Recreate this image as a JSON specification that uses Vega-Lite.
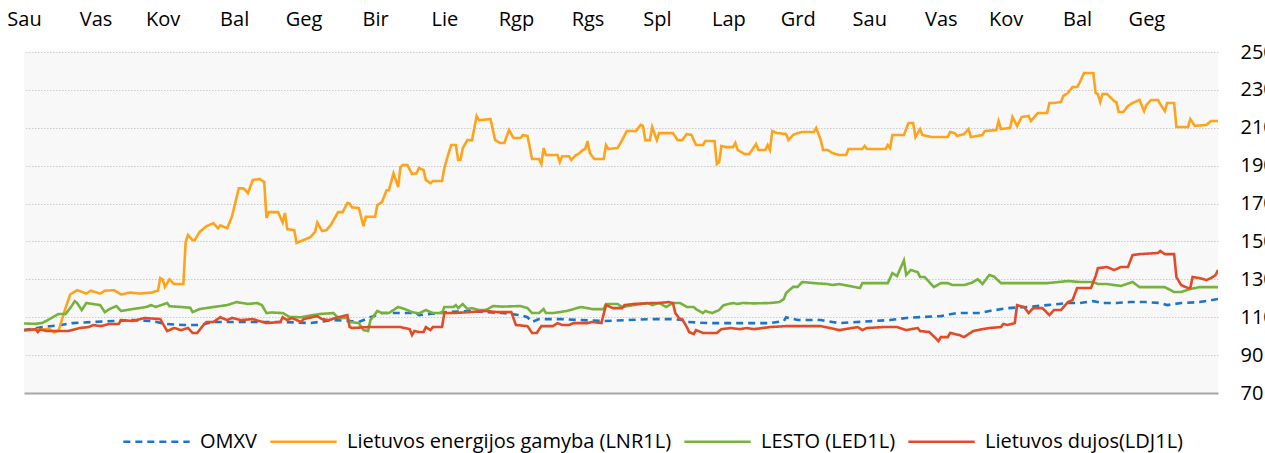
{"$schema":"https://vega.github.io/schema/vega-lite/v6.json","width":1194,"height":341,"autosize":{"type":"none"},"padding":{"left":24,"top":52,"right":47,"bottom":60},"background":"white","config":{"view":{"fill":"#f8f8f8","stroke":null},"font":"Open Sans"},
"data":{"values":[
{"d":0,"s":"OMXV","v":103.2},{"d":8,"s":"OMXV","v":104.8},{"d":16,"s":"OMXV","v":105.9},{"d":21,"s":"OMXV","v":106.9},{"d":30,"s":"OMXV","v":107.5},{"d":39,"s":"OMXV","v":108},{"d":47,"s":"OMXV","v":108.5},{"d":55,"s":"OMXV","v":108},{"d":62,"s":"OMXV","v":106.4},{"d":69,"s":"OMXV","v":105.9},{"d":76,"s":"OMXV","v":105.9},{"d":82,"s":"OMXV","v":107.5},{"d":90,"s":"OMXV","v":107.5},{"d":102,"s":"OMXV","v":107.5},{"d":112,"s":"OMXV","v":107.5},{"d":124,"s":"OMXV","v":106.9},{"d":134,"s":"OMXV","v":108.5},{"d":141,"s":"OMXV","v":108},{"d":145,"s":"OMXV","v":107.5},{"d":150,"s":"OMXV","v":110},{"d":155,"s":"OMXV","v":112.2},{"d":163,"s":"OMXV","v":112.2},{"d":170,"s":"OMXV","v":112.2},{"d":171,"s":"OMXV","v":111.1},{"d":183,"s":"OMXV","v":112.7},{"d":193,"s":"OMXV","v":113.3},{"d":200,"s":"OMXV","v":112.7},{"d":207,"s":"OMXV","v":112.2},{"d":215,"s":"OMXV","v":111.1},{"d":218,"s":"OMXV","v":110},{"d":220,"s":"OMXV","v":107.5},{"d":223,"s":"OMXV","v":109},{"d":232,"s":"OMXV","v":109},{"d":241,"s":"OMXV","v":108.5},{"d":251,"s":"OMXV","v":108},{"d":261,"s":"OMXV","v":108.5},{"d":272,"s":"OMXV","v":109},{"d":281,"s":"OMXV","v":109},{"d":285,"s":"OMXV","v":108.5},{"d":287,"s":"OMXV","v":107.5},{"d":296,"s":"OMXV","v":106.9},{"d":309,"s":"OMXV","v":106.9},{"d":323,"s":"OMXV","v":106.9},{"d":329,"s":"OMXV","v":108},{"d":330,"s":"OMXV","v":110},{"d":335,"s":"OMXV","v":108.5},{"d":345,"s":"OMXV","v":108.5},{"d":350,"s":"OMXV","v":107.5},{"d":353,"s":"OMXV","v":106.9},{"d":368,"s":"OMXV","v":108},{"d":375,"s":"OMXV","v":108.5},{"d":382,"s":"OMXV","v":109.6},{"d":389,"s":"OMXV","v":110.1},{"d":397,"s":"OMXV","v":110.6},{"d":404,"s":"OMXV","v":112.2},{"d":414,"s":"OMXV","v":112.2},{"d":418,"s":"OMXV","v":113.3},{"d":426,"s":"OMXV","v":114.8},{"d":434,"s":"OMXV","v":115.4},{"d":443,"s":"OMXV","v":116.4},{"d":452,"s":"OMXV","v":117.5},{"d":457,"s":"OMXV","v":117.5},{"d":463,"s":"OMXV","v":118.5},{"d":467,"s":"OMXV","v":117.5},{"d":473,"s":"OMXV","v":117.5},{"d":479,"s":"OMXV","v":118},{"d":486,"s":"OMXV","v":118},{"d":492,"s":"OMXV","v":117.5},{"d":495,"s":"OMXV","v":116.4},{"d":501,"s":"OMXV","v":117.5},{"d":509,"s":"OMXV","v":118},{"d":517,"s":"OMXV","v":119.6},
{"d":0,"s":"LNR1L","v":103},{"d":7,"s":"LNR1L","v":103.5},{"d":11,"s":"LNR1L","v":103.8},{"d":13,"s":"LNR1L","v":102},{"d":15,"s":"LNR1L","v":103},{"d":18,"s":"LNR1L","v":115},{"d":20,"s":"LNR1L","v":122},{"d":23,"s":"LNR1L","v":124.3},{"d":27,"s":"LNR1L","v":122.5},{"d":29,"s":"LNR1L","v":124},{"d":33,"s":"LNR1L","v":122.5},{"d":35,"s":"LNR1L","v":124},{"d":39,"s":"LNR1L","v":124.3},{"d":42,"s":"LNR1L","v":122},{"d":46,"s":"LNR1L","v":123},{"d":50,"s":"LNR1L","v":122.5},{"d":55,"s":"LNR1L","v":123},{"d":58,"s":"LNR1L","v":124},{"d":59,"s":"LNR1L","v":130.7},{"d":60,"s":"LNR1L","v":130},{"d":61,"s":"LNR1L","v":126},{"d":63,"s":"LNR1L","v":130},{"d":65,"s":"LNR1L","v":127.5},{"d":69,"s":"LNR1L","v":127.5},{"d":70,"s":"LNR1L","v":149.7},{"d":71,"s":"LNR1L","v":153.4},{"d":73,"s":"LNR1L","v":150.7},{"d":74,"s":"LNR1L","v":150.7},{"d":76,"s":"LNR1L","v":155},{"d":79,"s":"LNR1L","v":158},{"d":82,"s":"LNR1L","v":159.7},{"d":84,"s":"LNR1L","v":157},{"d":85,"s":"LNR1L","v":158.5},{"d":88,"s":"LNR1L","v":157},{"d":90,"s":"LNR1L","v":163},{"d":93,"s":"LNR1L","v":178},{"d":95,"s":"LNR1L","v":178},{"d":97,"s":"LNR1L","v":175.5},{"d":99,"s":"LNR1L","v":182.4},{"d":102,"s":"LNR1L","v":183},{"d":104,"s":"LNR1L","v":181.4},{"d":105,"s":"LNR1L","v":162.4},{"d":106,"s":"LNR1L","v":165.5},{"d":110,"s":"LNR1L","v":165.5},{"d":112,"s":"LNR1L","v":160},{"d":113,"s":"LNR1L","v":165},{"d":114,"s":"LNR1L","v":156.5},{"d":117,"s":"LNR1L","v":156},{"d":118,"s":"LNR1L","v":149.2},{"d":121,"s":"LNR1L","v":150.7},{"d":124,"s":"LNR1L","v":152.3},{"d":126,"s":"LNR1L","v":155},{"d":127,"s":"LNR1L","v":160},{"d":129,"s":"LNR1L","v":155.5},{"d":131,"s":"LNR1L","v":156},{"d":133,"s":"LNR1L","v":159},{"d":136,"s":"LNR1L","v":165.5},{"d":138,"s":"LNR1L","v":165.5},{"d":140,"s":"LNR1L","v":170.3},{"d":141,"s":"LNR1L","v":170},{"d":142,"s":"LNR1L","v":168},{"d":145,"s":"LNR1L","v":167.6},{"d":147,"s":"LNR1L","v":158},{"d":148,"s":"LNR1L","v":163},{"d":152,"s":"LNR1L","v":163},{"d":153,"s":"LNR1L","v":169.2},{"d":155,"s":"LNR1L","v":170.8},{"d":157,"s":"LNR1L","v":177},{"d":158,"s":"LNR1L","v":177},{"d":160,"s":"LNR1L","v":186},{"d":162,"s":"LNR1L","v":178.7},{"d":163,"s":"LNR1L","v":189.3},{"d":164,"s":"LNR1L","v":190.3},{"d":166,"s":"LNR1L","v":190.3},{"d":168,"s":"LNR1L","v":185.6},{"d":170,"s":"LNR1L","v":186},{"d":171,"s":"LNR1L","v":188.8},{"d":173,"s":"LNR1L","v":187.7},{"d":174,"s":"LNR1L","v":182.4},{"d":176,"s":"LNR1L","v":180.8},{"d":177,"s":"LNR1L","v":181.9},{"d":181,"s":"LNR1L","v":181.9},{"d":182,"s":"LNR1L","v":188.8},{"d":184,"s":"LNR1L","v":197.2},{"d":185,"s":"LNR1L","v":200.9},{"d":187,"s":"LNR1L","v":200.9},{"d":188,"s":"LNR1L","v":193},{"d":189,"s":"LNR1L","v":193},{"d":190,"s":"LNR1L","v":199.3},{"d":192,"s":"LNR1L","v":203.5},{"d":194,"s":"LNR1L","v":203.5},{"d":196,"s":"LNR1L","v":216.2},{"d":197,"s":"LNR1L","v":214},{"d":202,"s":"LNR1L","v":214.6},{"d":204,"s":"LNR1L","v":203.5},{"d":206,"s":"LNR1L","v":202},{"d":208,"s":"LNR1L","v":202},{"d":210,"s":"LNR1L","v":208.8},{"d":212,"s":"LNR1L","v":204.6},{"d":215,"s":"LNR1L","v":204.6},{"d":216,"s":"LNR1L","v":206.2},{"d":218,"s":"LNR1L","v":205.7},{"d":220,"s":"LNR1L","v":193.5},{"d":223,"s":"LNR1L","v":193.5},{"d":224,"s":"LNR1L","v":190.9},{"d":225,"s":"LNR1L","v":199.3},{"d":226,"s":"LNR1L","v":195.6},{"d":231,"s":"LNR1L","v":195.6},{"d":232,"s":"LNR1L","v":191.9},{"d":233,"s":"LNR1L","v":195},{"d":236,"s":"LNR1L","v":195},{"d":237,"s":"LNR1L","v":193},{"d":239,"s":"LNR1L","v":195.6},{"d":240,"s":"LNR1L","v":196.1},{"d":242,"s":"LNR1L","v":198.3},{"d":243,"s":"LNR1L","v":198.8},{"d":244,"s":"LNR1L","v":203},{"d":245,"s":"LNR1L","v":196.7},{"d":246,"s":"LNR1L","v":195},{"d":247,"s":"LNR1L","v":193.5},{"d":251,"s":"LNR1L","v":193.5},{"d":252,"s":"LNR1L","v":200.9},{"d":253,"s":"LNR1L","v":198.8},{"d":257,"s":"LNR1L","v":199.3},{"d":259,"s":"LNR1L","v":203.5},{"d":261,"s":"LNR1L","v":208.3},{"d":265,"s":"LNR1L","v":208.3},{"d":267,"s":"LNR1L","v":211.5},{"d":268,"s":"LNR1L","v":211},{"d":269,"s":"LNR1L","v":203.5},{"d":271,"s":"LNR1L","v":203.5},{"d":272,"s":"LNR1L","v":210.4},{"d":274,"s":"LNR1L","v":203.5},{"d":275,"s":"LNR1L","v":207.2},{"d":281,"s":"LNR1L","v":207.2},{"d":283,"s":"LNR1L","v":203.5},{"d":285,"s":"LNR1L","v":203.5},{"d":287,"s":"LNR1L","v":206.7},{"d":289,"s":"LNR1L","v":206.2},{"d":291,"s":"LNR1L","v":200.9},{"d":294,"s":"LNR1L","v":200.9},{"d":295,"s":"LNR1L","v":203},{"d":299,"s":"LNR1L","v":203},{"d":300,"s":"LNR1L","v":190.9},{"d":301,"s":"LNR1L","v":191.9},{"d":302,"s":"LNR1L","v":200.4},{"d":304,"s":"LNR1L","v":199.8},{"d":307,"s":"LNR1L","v":199.8},{"d":308,"s":"LNR1L","v":202},{"d":309,"s":"LNR1L","v":198.3},{"d":312,"s":"LNR1L","v":196.1},{"d":314,"s":"LNR1L","v":196.1},{"d":317,"s":"LNR1L","v":201.4},{"d":318,"s":"LNR1L","v":198.3},{"d":321,"s":"LNR1L","v":198.3},{"d":322,"s":"LNR1L","v":200.9},{"d":323,"s":"LNR1L","v":198.3},{"d":324,"s":"LNR1L","v":208.3},{"d":326,"s":"LNR1L","v":207.2},{"d":330,"s":"LNR1L","v":206.7},{"d":331,"s":"LNR1L","v":203.5},{"d":333,"s":"LNR1L","v":206.2},{"d":335,"s":"LNR1L","v":207.2},{"d":337,"s":"LNR1L","v":207.8},{"d":342,"s":"LNR1L","v":207.8},{"d":343,"s":"LNR1L","v":209.9},{"d":345,"s":"LNR1L","v":203.5},{"d":346,"s":"LNR1L","v":198.3},{"d":348,"s":"LNR1L","v":198.3},{"d":350,"s":"LNR1L","v":196.7},{"d":353,"s":"LNR1L","v":195.6},{"d":356,"s":"LNR1L","v":195.6},{"d":357,"s":"LNR1L","v":198.8},{"d":363,"s":"LNR1L","v":198.8},{"d":364,"s":"LNR1L","v":200.4},{"d":365,"s":"LNR1L","v":198.8},{"d":373,"s":"LNR1L","v":198.8},{"d":374,"s":"LNR1L","v":200.9},{"d":375,"s":"LNR1L","v":199.3},{"d":376,"s":"LNR1L","v":206.2},{"d":381,"s":"LNR1L","v":206.2},{"d":383,"s":"LNR1L","v":212.5},{"d":385,"s":"LNR1L","v":212.5},{"d":386,"s":"LNR1L","v":205.1},{"d":388,"s":"LNR1L","v":209.3},{"d":389,"s":"LNR1L","v":206.2},{"d":393,"s":"LNR1L","v":205.1},{"d":400,"s":"LNR1L","v":205.1},{"d":401,"s":"LNR1L","v":207.8},{"d":403,"s":"LNR1L","v":207.2},{"d":404,"s":"LNR1L","v":205.7},{"d":407,"s":"LNR1L","v":206.7},{"d":409,"s":"LNR1L","v":209.3},{"d":410,"s":"LNR1L","v":205.1},{"d":415,"s":"LNR1L","v":206.2},{"d":416,"s":"LNR1L","v":208.3},{"d":421,"s":"LNR1L","v":208.8},{"d":422,"s":"LNR1L","v":213.6},{"d":423,"s":"LNR1L","v":209.3},{"d":427,"s":"LNR1L","v":209.9},{"d":428,"s":"LNR1L","v":215.7},{"d":430,"s":"LNR1L","v":211},{"d":432,"s":"LNR1L","v":215.7},{"d":435,"s":"LNR1L","v":216.2},{"d":436,"s":"LNR1L","v":213.6},{"d":439,"s":"LNR1L","v":217.8},{"d":443,"s":"LNR1L","v":217.8},{"d":444,"s":"LNR1L","v":223.1},{"d":446,"s":"LNR1L","v":223.1},{"d":449,"s":"LNR1L","v":223.6},{"d":450,"s":"LNR1L","v":226.8},{"d":452,"s":"LNR1L","v":228.4},{"d":454,"s":"LNR1L","v":231.5},{"d":456,"s":"LNR1L","v":231.5},{"d":457,"s":"LNR1L","v":233.6},{"d":459,"s":"LNR1L","v":238.9},{"d":463,"s":"LNR1L","v":238.9},{"d":464,"s":"LNR1L","v":228.4},{"d":465,"s":"LNR1L","v":227.8},{"d":466,"s":"LNR1L","v":223.6},{"d":467,"s":"LNR1L","v":227.8},{"d":469,"s":"LNR1L","v":227.8},{"d":472,"s":"LNR1L","v":224.1},{"d":473,"s":"LNR1L","v":223.6},{"d":474,"s":"LNR1L","v":218.3},{"d":476,"s":"LNR1L","v":218.3},{"d":478,"s":"LNR1L","v":221.5},{"d":480,"s":"LNR1L","v":223.1},{"d":483,"s":"LNR1L","v":224.7},{"d":485,"s":"LNR1L","v":218.8},{"d":486,"s":"LNR1L","v":222},{"d":488,"s":"LNR1L","v":224.7},{"d":491,"s":"LNR1L","v":224.7},{"d":492,"s":"LNR1L","v":222.5},{"d":494,"s":"LNR1L","v":218.8},{"d":495,"s":"LNR1L","v":223.1},{"d":498,"s":"LNR1L","v":223.1},{"d":499,"s":"LNR1L","v":210.4},{"d":504,"s":"LNR1L","v":210.4},{"d":505,"s":"LNR1L","v":214.6},{"d":507,"s":"LNR1L","v":211},{"d":512,"s":"LNR1L","v":211.5},{"d":514,"s":"LNR1L","v":213.6},{"d":517,"s":"LNR1L","v":213.6},
{"d":0,"s":"LED1L","v":106.7},{"d":5,"s":"LED1L","v":106.5},{"d":8,"s":"LED1L","v":107},{"d":11,"s":"LED1L","v":109},{"d":15,"s":"LED1L","v":111.7},{"d":18,"s":"LED1L","v":111.7},{"d":20,"s":"LED1L","v":114.8},{"d":22,"s":"LED1L","v":118.5},{"d":23,"s":"LED1L","v":117.5},{"d":25,"s":"LED1L","v":113.8},{"d":27,"s":"LED1L","v":117.5},{"d":33,"s":"LED1L","v":116.4},{"d":35,"s":"LED1L","v":112.7},{"d":37,"s":"LED1L","v":114.3},{"d":40,"s":"LED1L","v":115.9},{"d":42,"s":"LED1L","v":113.3},{"d":47,"s":"LED1L","v":114.3},{"d":53,"s":"LED1L","v":115.4},{"d":55,"s":"LED1L","v":116.4},{"d":57,"s":"LED1L","v":115.4},{"d":62,"s":"LED1L","v":117.5},{"d":63,"s":"LED1L","v":115.8},{"d":68,"s":"LED1L","v":115.4},{"d":72,"s":"LED1L","v":115},{"d":73,"s":"LED1L","v":112.7},{"d":76,"s":"LED1L","v":114.3},{"d":82,"s":"LED1L","v":115.4},{"d":88,"s":"LED1L","v":116.4},{"d":92,"s":"LED1L","v":118},{"d":97,"s":"LED1L","v":117},{"d":101,"s":"LED1L","v":117.5},{"d":103,"s":"LED1L","v":116.4},{"d":105,"s":"LED1L","v":112.2},{"d":107,"s":"LED1L","v":112.5},{"d":112,"s":"LED1L","v":112.2},{"d":115,"s":"LED1L","v":110.1},{"d":120,"s":"LED1L","v":110},{"d":125,"s":"LED1L","v":111.1},{"d":128,"s":"LED1L","v":111.7},{"d":134,"s":"LED1L","v":112.2},{"d":136,"s":"LED1L","v":109.6},{"d":140,"s":"LED1L","v":109.6},{"d":141,"s":"LED1L","v":107.5},{"d":145,"s":"LED1L","v":106.9},{"d":147,"s":"LED1L","v":103.2},{"d":149,"s":"LED1L","v":102.7},{"d":150,"s":"LED1L","v":108.5},{"d":151,"s":"LED1L","v":110},{"d":153,"s":"LED1L","v":113.3},{"d":155,"s":"LED1L","v":112.2},{"d":158,"s":"LED1L","v":112.2},{"d":160,"s":"LED1L","v":113.8},{"d":162,"s":"LED1L","v":115.4},{"d":165,"s":"LED1L","v":114.3},{"d":168,"s":"LED1L","v":112.7},{"d":171,"s":"LED1L","v":112},{"d":174,"s":"LED1L","v":113.8},{"d":177,"s":"LED1L","v":112.2},{"d":181,"s":"LED1L","v":112.2},{"d":182,"s":"LED1L","v":115.4},{"d":186,"s":"LED1L","v":115.4},{"d":187,"s":"LED1L","v":116.4},{"d":188,"s":"LED1L","v":114.8},{"d":190,"s":"LED1L","v":117},{"d":192,"s":"LED1L","v":114.3},{"d":194,"s":"LED1L","v":114.8},{"d":197,"s":"LED1L","v":113.8},{"d":200,"s":"LED1L","v":113.8},{"d":203,"s":"LED1L","v":115.9},{"d":207,"s":"LED1L","v":115.6},{"d":215,"s":"LED1L","v":115.9},{"d":218,"s":"LED1L","v":114.8},{"d":220,"s":"LED1L","v":112.2},{"d":223,"s":"LED1L","v":112.2},{"d":225,"s":"LED1L","v":114.3},{"d":226,"s":"LED1L","v":112.2},{"d":229,"s":"LED1L","v":112.2},{"d":232,"s":"LED1L","v":112.7},{"d":235,"s":"LED1L","v":113.3},{"d":238,"s":"LED1L","v":114.3},{"d":241,"s":"LED1L","v":115.4},{"d":244,"s":"LED1L","v":114.8},{"d":246,"s":"LED1L","v":114.3},{"d":251,"s":"LED1L","v":114.3},{"d":252,"s":"LED1L","v":117},{"d":257,"s":"LED1L","v":117},{"d":259,"s":"LED1L","v":115.4},{"d":264,"s":"LED1L","v":116.4},{"d":270,"s":"LED1L","v":117.5},{"d":272,"s":"LED1L","v":116.4},{"d":275,"s":"LED1L","v":117.5},{"d":278,"s":"LED1L","v":115.4},{"d":281,"s":"LED1L","v":117.5},{"d":284,"s":"LED1L","v":117.5},{"d":287,"s":"LED1L","v":115.4},{"d":290,"s":"LED1L","v":115.4},{"d":291,"s":"LED1L","v":114.3},{"d":294,"s":"LED1L","v":112.2},{"d":295,"s":"LED1L","v":113.3},{"d":298,"s":"LED1L","v":112.2},{"d":301,"s":"LED1L","v":113.8},{"d":303,"s":"LED1L","v":116.4},{"d":307,"s":"LED1L","v":117.5},{"d":309,"s":"LED1L","v":117},{"d":311,"s":"LED1L","v":117.5},{"d":316,"s":"LED1L","v":117.3},{"d":323,"s":"LED1L","v":117.5},{"d":327,"s":"LED1L","v":118},{"d":329,"s":"LED1L","v":119.6},{"d":330,"s":"LED1L","v":122.8},{"d":333,"s":"LED1L","v":126},{"d":335,"s":"LED1L","v":126},{"d":337,"s":"LED1L","v":128.6},{"d":342,"s":"LED1L","v":128},{"d":348,"s":"LED1L","v":127.5},{"d":350,"s":"LED1L","v":127},{"d":353,"s":"LED1L","v":127.5},{"d":362,"s":"LED1L","v":125.4},{"d":363,"s":"LED1L","v":128},{"d":374,"s":"LED1L","v":128},{"d":376,"s":"LED1L","v":133.3},{"d":378,"s":"LED1L","v":131.7},{"d":381,"s":"LED1L","v":140},{"d":382,"s":"LED1L","v":132.3},{"d":384,"s":"LED1L","v":134.9},{"d":387,"s":"LED1L","v":133.8},{"d":388,"s":"LED1L","v":131.2},{"d":390,"s":"LED1L","v":131.2},{"d":394,"s":"LED1L","v":125.9},{"d":397,"s":"LED1L","v":128},{"d":400,"s":"LED1L","v":128},{"d":402,"s":"LED1L","v":127},{"d":407,"s":"LED1L","v":127},{"d":410,"s":"LED1L","v":128},{"d":413,"s":"LED1L","v":130.1},{"d":415,"s":"LED1L","v":127.5},{"d":418,"s":"LED1L","v":132.3},{"d":420,"s":"LED1L","v":131.5},{"d":423,"s":"LED1L","v":128},{"d":434,"s":"LED1L","v":128},{"d":443,"s":"LED1L","v":128},{"d":452,"s":"LED1L","v":129.1},{"d":457,"s":"LED1L","v":128.6},{"d":463,"s":"LED1L","v":128.6},{"d":465,"s":"LED1L","v":127.5},{"d":469,"s":"LED1L","v":127.5},{"d":475,"s":"LED1L","v":126.5},{"d":480,"s":"LED1L","v":128.6},{"d":483,"s":"LED1L","v":125.9},{"d":494,"s":"LED1L","v":125.9},{"d":498,"s":"LED1L","v":123.3},{"d":501,"s":"LED1L","v":123.3},{"d":505,"s":"LED1L","v":124.9},{"d":509,"s":"LED1L","v":125.9},{"d":517,"s":"LED1L","v":125.9},
{"d":0,"s":"LDJ1L","v":103.2},{"d":5,"s":"LDJ1L","v":103.7},{"d":6,"s":"LDJ1L","v":102.2},{"d":7,"s":"LDJ1L","v":103.5},{"d":10,"s":"LDJ1L","v":102.7},{"d":19,"s":"LDJ1L","v":102.7},{"d":24,"s":"LDJ1L","v":104.3},{"d":28,"s":"LDJ1L","v":104.8},{"d":30,"s":"LDJ1L","v":105.9},{"d":33,"s":"LDJ1L","v":105.3},{"d":37,"s":"LDJ1L","v":106.4},{"d":41,"s":"LDJ1L","v":106.4},{"d":42,"s":"LDJ1L","v":108.5},{"d":47,"s":"LDJ1L","v":108},{"d":52,"s":"LDJ1L","v":109.6},{"d":59,"s":"LDJ1L","v":109},{"d":60,"s":"LDJ1L","v":106.9},{"d":62,"s":"LDJ1L","v":102.7},{"d":65,"s":"LDJ1L","v":104.3},{"d":68,"s":"LDJ1L","v":103.2},{"d":71,"s":"LDJ1L","v":104.3},{"d":73,"s":"LDJ1L","v":101.7},{"d":75,"s":"LDJ1L","v":101.7},{"d":77,"s":"LDJ1L","v":104.8},{"d":79,"s":"LDJ1L","v":107.5},{"d":82,"s":"LDJ1L","v":107.5},{"d":85,"s":"LDJ1L","v":110},{"d":88,"s":"LDJ1L","v":108.5},{"d":90,"s":"LDJ1L","v":109.6},{"d":94,"s":"LDJ1L","v":108.5},{"d":99,"s":"LDJ1L","v":109},{"d":105,"s":"LDJ1L","v":106.9},{"d":111,"s":"LDJ1L","v":107.5},{"d":112,"s":"LDJ1L","v":110},{"d":114,"s":"LDJ1L","v":108.5},{"d":116,"s":"LDJ1L","v":109.6},{"d":120,"s":"LDJ1L","v":107.5},{"d":121,"s":"LDJ1L","v":109},{"d":127,"s":"LDJ1L","v":110.6},{"d":129,"s":"LDJ1L","v":109},{"d":132,"s":"LDJ1L","v":108.5},{"d":136,"s":"LDJ1L","v":110},{"d":140,"s":"LDJ1L","v":111.1},{"d":141,"s":"LDJ1L","v":104.8},{"d":142,"s":"LDJ1L","v":104.3},{"d":149,"s":"LDJ1L","v":104.8},{"d":163,"s":"LDJ1L","v":104.8},{"d":167,"s":"LDJ1L","v":103.7},{"d":168,"s":"LDJ1L","v":100.6},{"d":169,"s":"LDJ1L","v":102.7},{"d":171,"s":"LDJ1L","v":102.2},{"d":173,"s":"LDJ1L","v":102.2},{"d":174,"s":"LDJ1L","v":104.8},{"d":176,"s":"LDJ1L","v":103.2},{"d":177,"s":"LDJ1L","v":104.8},{"d":181,"s":"LDJ1L","v":104.8},{"d":182,"s":"LDJ1L","v":112.2},{"d":186,"s":"LDJ1L","v":112.2},{"d":193,"s":"LDJ1L","v":112.7},{"d":200,"s":"LDJ1L","v":113.3},{"d":205,"s":"LDJ1L","v":112.7},{"d":211,"s":"LDJ1L","v":112.7},{"d":213,"s":"LDJ1L","v":105.9},{"d":218,"s":"LDJ1L","v":105.3},{"d":220,"s":"LDJ1L","v":101.7},{"d":222,"s":"LDJ1L","v":101.7},{"d":224,"s":"LDJ1L","v":105.3},{"d":229,"s":"LDJ1L","v":105.3},{"d":231,"s":"LDJ1L","v":106.9},{"d":233,"s":"LDJ1L","v":105.9},{"d":236,"s":"LDJ1L","v":105.9},{"d":238,"s":"LDJ1L","v":106.9},{"d":244,"s":"LDJ1L","v":106.9},{"d":246,"s":"LDJ1L","v":107.5},{"d":250,"s":"LDJ1L","v":106.9},{"d":252,"s":"LDJ1L","v":116.4},{"d":255,"s":"LDJ1L","v":114.8},{"d":259,"s":"LDJ1L","v":114.8},{"d":260,"s":"LDJ1L","v":116.4},{"d":264,"s":"LDJ1L","v":117},{"d":272,"s":"LDJ1L","v":117.5},{"d":275,"s":"LDJ1L","v":117.5},{"d":279,"s":"LDJ1L","v":118},{"d":281,"s":"LDJ1L","v":117.5},{"d":282,"s":"LDJ1L","v":112.2},{"d":284,"s":"LDJ1L","v":109},{"d":285,"s":"LDJ1L","v":109},{"d":287,"s":"LDJ1L","v":104.8},{"d":288,"s":"LDJ1L","v":102.2},{"d":290,"s":"LDJ1L","v":101.1},{"d":291,"s":"LDJ1L","v":103.2},{"d":294,"s":"LDJ1L","v":101.7},{"d":300,"s":"LDJ1L","v":101.7},{"d":302,"s":"LDJ1L","v":103.7},{"d":306,"s":"LDJ1L","v":104.3},{"d":310,"s":"LDJ1L","v":103.7},{"d":313,"s":"LDJ1L","v":104.3},{"d":316,"s":"LDJ1L","v":103.7},{"d":323,"s":"LDJ1L","v":104.8},{"d":330,"s":"LDJ1L","v":105.3},{"d":345,"s":"LDJ1L","v":105.3},{"d":349,"s":"LDJ1L","v":104.3},{"d":353,"s":"LDJ1L","v":103.2},{"d":361,"s":"LDJ1L","v":104.8},{"d":363,"s":"LDJ1L","v":103.2},{"d":365,"s":"LDJ1L","v":104.3},{"d":372,"s":"LDJ1L","v":104.8},{"d":378,"s":"LDJ1L","v":104.8},{"d":382,"s":"LDJ1L","v":103.2},{"d":387,"s":"LDJ1L","v":104.3},{"d":388,"s":"LDJ1L","v":102.7},{"d":392,"s":"LDJ1L","v":102.2},{"d":396,"s":"LDJ1L","v":97.4},{"d":397,"s":"LDJ1L","v":99.5},{"d":400,"s":"LDJ1L","v":99.5},{"d":401,"s":"LDJ1L","v":101.7},{"d":405,"s":"LDJ1L","v":100.6},{"d":407,"s":"LDJ1L","v":99.5},{"d":411,"s":"LDJ1L","v":102.7},{"d":415,"s":"LDJ1L","v":103.7},{"d":418,"s":"LDJ1L","v":104.3},{"d":423,"s":"LDJ1L","v":104.8},{"d":424,"s":"LDJ1L","v":106.4},{"d":426,"s":"LDJ1L","v":105.9},{"d":429,"s":"LDJ1L","v":106.9},{"d":430,"s":"LDJ1L","v":116.4},{"d":433,"s":"LDJ1L","v":115.4},{"d":435,"s":"LDJ1L","v":112.2},{"d":437,"s":"LDJ1L","v":114.8},{"d":441,"s":"LDJ1L","v":114.8},{"d":444,"s":"LDJ1L","v":111.1},{"d":446,"s":"LDJ1L","v":113.8},{"d":449,"s":"LDJ1L","v":113.8},{"d":452,"s":"LDJ1L","v":118},{"d":454,"s":"LDJ1L","v":119},{"d":456,"s":"LDJ1L","v":125.4},{"d":462,"s":"LDJ1L","v":125.4},{"d":464,"s":"LDJ1L","v":131.7},{"d":465,"s":"LDJ1L","v":135.9},{"d":469,"s":"LDJ1L","v":136.5},{"d":472,"s":"LDJ1L","v":134.9},{"d":475,"s":"LDJ1L","v":136.5},{"d":478,"s":"LDJ1L","v":136.5},{"d":480,"s":"LDJ1L","v":142.8},{"d":483,"s":"LDJ1L","v":143.3},{"d":491,"s":"LDJ1L","v":143.9},{"d":492,"s":"LDJ1L","v":145},{"d":494,"s":"LDJ1L","v":143.3},{"d":498,"s":"LDJ1L","v":143.3},{"d":499,"s":"LDJ1L","v":131.2},{"d":501,"s":"LDJ1L","v":127},{"d":504,"s":"LDJ1L","v":125.4},{"d":505,"s":"LDJ1L","v":125.4},{"d":506,"s":"LDJ1L","v":131.2},{"d":509,"s":"LDJ1L","v":130.7},{"d":512,"s":"LDJ1L","v":129.6},{"d":514,"s":"LDJ1L","v":130.7},{"d":516,"s":"LDJ1L","v":132.3},{"d":517,"s":"LDJ1L","v":134.9}
]},
"mark":{"type":"line","strokeWidth":2.6,"clip":true},
"encoding":{
"x":{"field":"d","type":"quantitative","scale":{"domain":[0,517],"nice":false,"zero":false},"axis":{"orient":"top","values":[0,31,60,91,121,152,182,213,244,274,305,335,366,397,425,456,486],"labelExpr":"['Sau','Vas','Kov','Bal','Geg','Bir','Lie','Rgp','Rgs','Spl','Lap','Grd','Sau','Vas','Kov','Bal','Geg'][indexof([0,31,60,91,121,152,182,213,244,274,305,335,366,397,425,456,486], datum.value)]","grid":false,"domain":false,"ticks":false,"tickSize":0,"labelPadding":23,"labelFontSize":20,"labelFont":"Open Sans","labelColor":"#000","labelOverlap":false,"labelFlush":false,"labelBound":false,"title":null}},
"y":{"field":"v","type":"quantitative","scale":{"domain":[70,250],"nice":false,"zero":false},"axis":{"orient":"right","values":[70,90,110,130,150,170,190,210,230,250],"grid":true,"gridColor":{"condition":{"test":"datum.value === 70","value":"#a6a6a6"},"value":"#cccccc"},"gridDash":{"condition":{"test":"datum.value === 70","value":[]},"value":[1.5,1.5]},"gridWidth":{"condition":{"test":"datum.value === 70","value":2},"value":1},"domain":false,"ticks":false,"tickSize":0,"labelPadding":22,"labelFontSize":20,"labelFont":"Open Sans","labelColor":"#000","labelOverlap":false,"labelFlush":false,"labelBaseline":"middle","title":null}},
"color":{"field":"s","type":"nominal","scale":{"domain":["OMXV","LNR1L","LED1L","LDJ1L"],"range":["#1c75c8","#ffa31a","#76b23c","#e24b26"]},"legend":{"orient":"none","legendX":98,"legendY":355,"direction":"horizontal","title":null,"symbolType":"stroke","symbolSize":4400,"symbolStrokeWidth":2.6,"labelFontSize":20,"labelFont":"Open Sans","labelColor":"#000","labelLimit":0,"columnPadding":7,"labelOffset":9,"labelExpr":"datum.value == 'LNR1L' ? 'Lietuvos energijos gamyba (LNR1L)' : datum.value == 'LED1L' ? 'LESTO (LED1L)' : datum.value == 'LDJ1L' ? 'Lietuvos dujos(LDJ1L)' : datum.value"}},
"strokeDash":{"field":"s","type":"nominal","scale":{"domain":["OMXV","LNR1L","LED1L","LDJ1L"],"range":[[7,5],[1,0],[1,0],[1,0]]},"legend":{"orient":"none","legendX":98,"legendY":355,"direction":"horizontal","title":null,"symbolType":"stroke","symbolSize":4400,"symbolStrokeWidth":2.6,"labelFontSize":20,"labelFont":"Open Sans","labelColor":"#000","labelLimit":0,"columnPadding":7,"labelOffset":9,"labelExpr":"datum.value == 'LNR1L' ? 'Lietuvos energijos gamyba (LNR1L)' : datum.value == 'LED1L' ? 'LESTO (LED1L)' : datum.value == 'LDJ1L' ? 'Lietuvos dujos(LDJ1L)' : datum.value"}}
}}
